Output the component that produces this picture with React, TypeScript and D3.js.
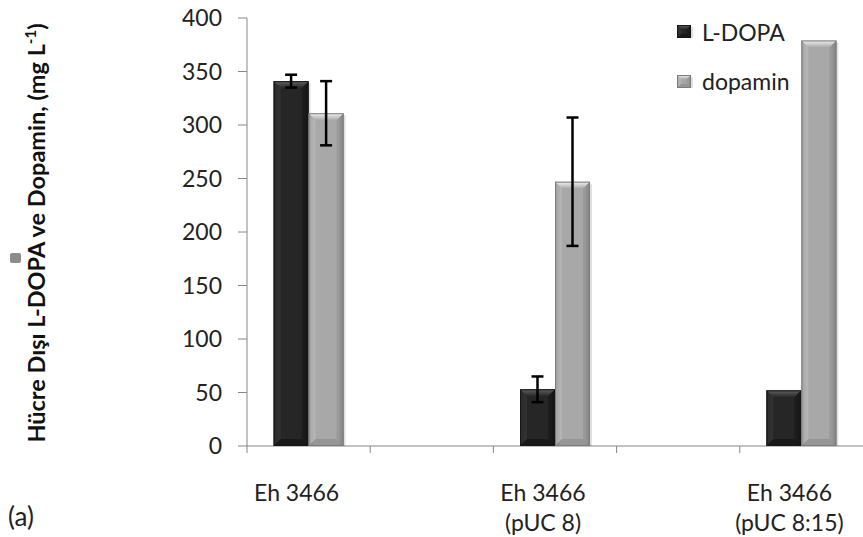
import React from 'react';
import * as d3 from 'd3';

// five slots on the axis, Excel-style: the 2nd and 4th are empty
const categories = [['Eh 3466'], [], ['Eh 3466', '(pUC 8)'], [], ['Eh 3466', '(pUC 8:15)']];
const seriesNames = ['L-DOPA', 'dopamin'];
const lDopa = [341, null, 53, null, 52];
const lDopaErr = [6, null, 12, null, null];
const dopamin = [311, null, 247, null, 379];
const dopaminErr = [30, null, 60, null, null];
const yTicks = [0, 50, 100, 150, 200, 250, 300, 350, 400];

const W = 863;
const H = 537;
const FONT = 'Lato, "Open Sans", sans-serif';
const AXIS = '#868686';

const palettes = {
  'L-DOPA': { base: '#262626', edge: '#161616', top: '#626262', side: '#3a3a3a', bottom: '#111111' },
  dopamin: { base: '#a8a8a8', edge: '#7c7c7c', top: '#f2f2f2', side: '#bdbdbd', bottom: '#8a8a8a' },
};

const Bar = ({ x, y, w, h, name }) => {
  const p = palettes[name];
  const b = Math.min(7, h / 3);
  const id = name === 'L-DOPA' ? 'gA' : 'gB';
  return (
    <g>
      <rect x={x + 2} y={y + 2} width={w} height={h - 2} fill="#000" opacity={0.12} />
      <rect x={x} y={y} width={w} height={h} fill={`url(#${id})`} />
      <polygon points={`${x},${y} ${x + w},${y} ${x + w - b},${y + b} ${x + b},${y + b}`} fill={`url(#${id}t)`} />
      <polygon points={`${x},${y} ${x + b},${y + b} ${x + b},${y + h - b} ${x},${y + h}`} fill={p.side} opacity={0.55} />
      <polygon points={`${x + w},${y} ${x + w - b},${y + b} ${x + w - b},${y + h - b} ${x + w},${y + h}`} fill={p.bottom} opacity={0.45} />
      <polygon points={`${x},${y + h} ${x + b},${y + h - b} ${x + w - b},${y + h - b} ${x + w},${y + h}`} fill={p.bottom} opacity={0.6} />
      <rect x={x + 0.5} y={y + 0.5} width={w - 1} height={h - 1} fill="none" stroke={p.edge} strokeWidth={1} />
    </g>
  );
};

const App = () => {
  const x = d3.scaleBand().domain(categories.map((_, i) => i)).range([247, 863]).padding(0);
  const inner = d3.scaleBand().domain(seriesNames).range([0, x.bandwidth()]).paddingInner(0).paddingOuter(0.76);
  const y = d3.scaleLinear().domain([0, 400]).range([446, 18]);

  const series = [
    { name: 'L-DOPA', values: lDopa, errs: lDopaErr },
    { name: 'dopamin', values: dopamin, errs: dopaminErr },
  ];

  const gradDefs = seriesNames.map(n => {
    const p = palettes[n];
    const id = n === 'L-DOPA' ? 'gA' : 'gB';
    return (
      <React.Fragment key={n}>
        <linearGradient id={id} x1="0" x2="1" y1="0" y2="0">
          <stop offset="0" stopColor={p.edge} />
          <stop offset="0.15" stopColor={p.base} />
          <stop offset="0.85" stopColor={p.base} />
          <stop offset="1" stopColor={p.edge} />
        </linearGradient>
        <linearGradient id={`${id}t`} x1="0" x2="0" y1="0" y2="1">
          <stop offset="0" stopColor={p.top} />
          <stop offset="1" stopColor={p.base} />
        </linearGradient>
      </React.Fragment>
    );
  });

  return (
    <svg width={W} height={H} style={{ position: 'absolute', left: 0, top: 0 }} fontFamily={FONT}>
      <defs>{gradDefs}</defs>
      <rect width={W} height={H} fill="#fff" />

      {/* y axis */}
      <line x1={247} x2={247} y1={y(400)} y2={y(0)} stroke={AXIS} />
      {yTicks.map(t => (
        <g key={t}>
          <line x1={238} x2={247} y1={y(t)} y2={y(t)} stroke={AXIS} />
          <text x={222} y={y(t)} dy="0.36em" textAnchor="end" fontSize={23} fill="#222">{t}</text>
        </g>
      ))}

      {/* x axis */}
      <line x1={247} x2={W} y1={y(0)} y2={y(0)} stroke={AXIS} />
      {categories.map((_, i) => (
        <line key={i} x1={x(i)} x2={x(i)} y1={y(0)} y2={y(0) + 7} stroke={AXIS} />
      ))}
      {categories.map((lines, i) => lines.map((s, j) => (
        <text key={`${i}-${j}`} x={x(i) + x.bandwidth() / 2 - 12} y={501 + j * 30} textAnchor="middle" fontSize={23} fill="#222">{s}</text>
      )))}

      {/* bars */}
      {series.map(s => s.values.map((v, i) => v == null ? null : (
        <Bar key={`${s.name}-${i}`} name={s.name} x={x(i) + inner(s.name)} y={y(v)} w={inner.bandwidth()} h={y(0) - y(v)} />
      )))}

      {/* error bars */}
      {series.map(s => s.errs.map((e, i) => {
        if (e == null) return null;
        const cx = x(i) + inner(s.name) + inner.bandwidth() / 2;
        const v = s.values[i];
        return (
          <g key={`e-${s.name}-${i}`} stroke="#000" strokeWidth={2.5}>
            <line x1={cx} x2={cx} y1={y(v + e)} y2={y(v - e)} />
            <line x1={cx - 6} x2={cx + 6} y1={y(v + e)} y2={y(v + e)} />
            <line x1={cx - 6} x2={cx + 6} y1={y(v - e)} y2={y(v - e)} />
          </g>
        );
      }))}

      {/* legend */}
      {seriesNames.map((n, i) => (
        <g key={n}>
          <Bar name={n} x={677} y={25 + i * 50} w={14} h={13} />
          <text x={702} y={41 + i * 49} fontSize={23} fill="#222">{n}</text>
        </g>
      ))}

      {/* y title */}
      <rect x={10} y={253} width={11} height={10} rx={2} fill="#8c8c8c" />
      <text transform="translate(45,233) rotate(-90)" textAnchor="middle" fontSize={23.5} fontWeight="bold" fill="#111">
        Hücre Dışı L-DOPA ve Dopamin, (mg L<tspan dy={-9} fontSize={15}>-1</tspan><tspan dy={9}>)</tspan>
      </text>

      <text x={8} y={526} fontSize={26} fill="#222">(a)</text>
    </svg>
  );
};

export default App;
